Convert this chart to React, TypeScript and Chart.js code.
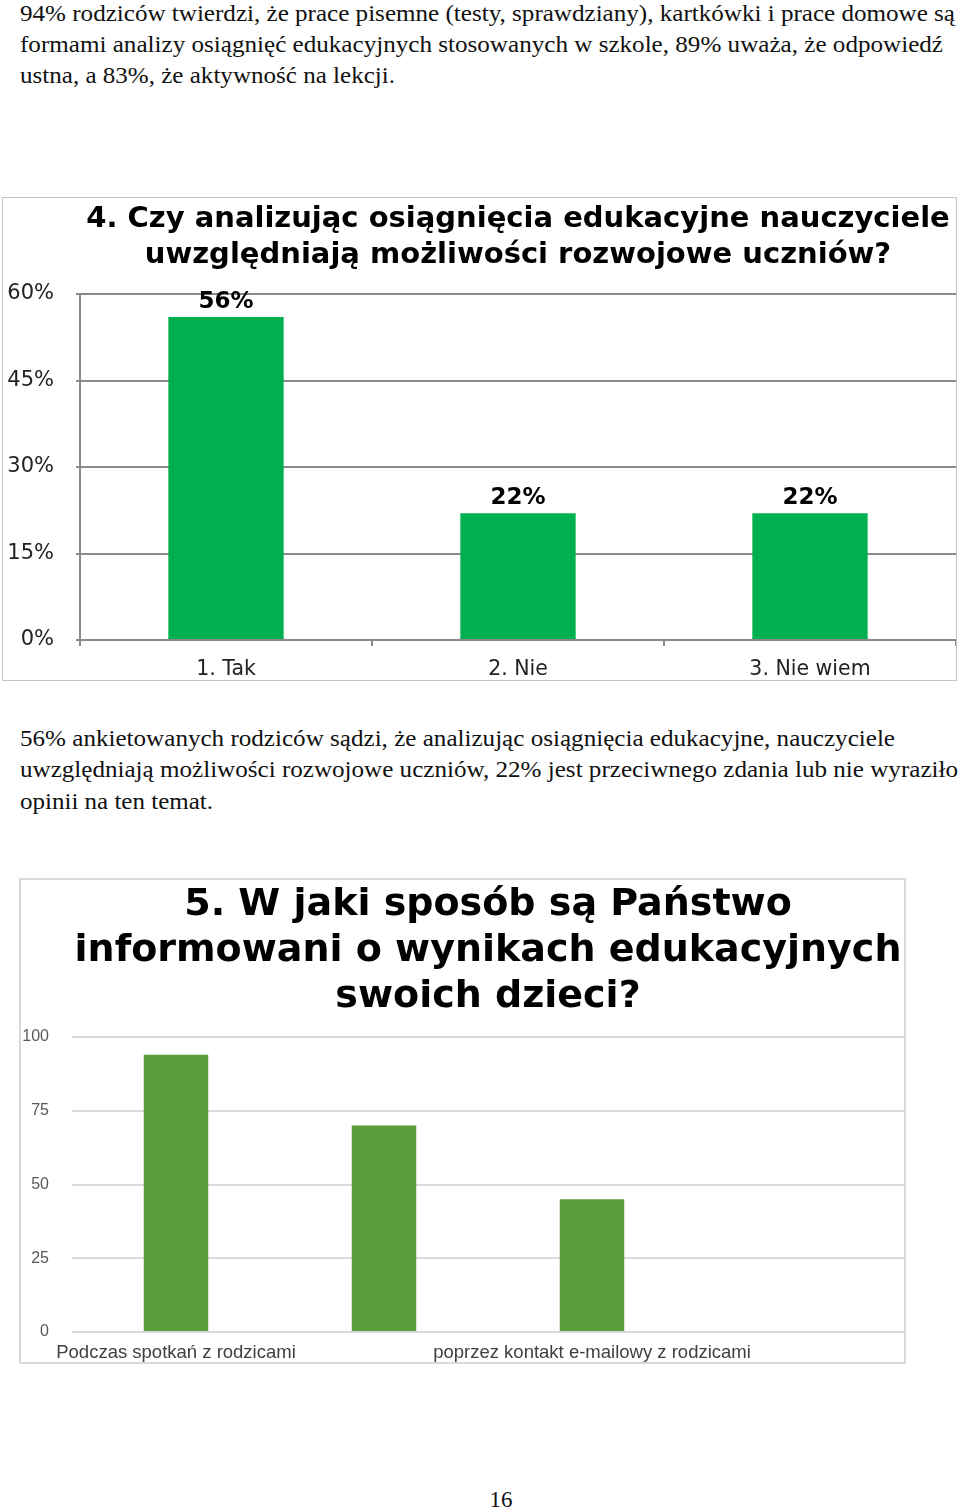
import React, { useEffect, useLayoutEffect, useRef } from 'react';
import { Chart, registerables } from 'chart.js';

Chart.register(...registerables);

// ---------- Data ----------
const paragraph1Lines = [
  '94% rodziców twierdzi, że prace pisemne (testy, sprawdziany), kartkówki i prace domowe są',
  'formami analizy osiągnięć edukacyjnych stosowanych w szkole, 89% uważa, że odpowiedź',
  'ustna, a 83%, że aktywność na lekcji.',
];
const paragraph2Lines = [
  '56% ankietowanych rodziców sądzi, że analizując osiągnięcia edukacyjne, nauczyciele',
  'uwzględniają możliwości rozwojowe uczniów, 22% jest przeciwnego zdania lub nie wyraziło',
  'opinii na ten temat.',
];
const pageNumber = '16';

const q4Title = [
  '4. Czy analizując osiągnięcia edukacyjne nauczyciele',
  'uwzględniają możliwości rozwojowe uczniów?',
];
const q4Categories = ['1. Tak', '2. Nie', '3. Nie wiem'];
const q4Values = [56, 22, 22];
const q4AxisMax = 60;
const q4AxisStep = 15;

const q5Title = [
  '5. W jaki sposób są Państwo',
  'informowani o wynikach edukacyjnych',
  'swoich dzieci?',
];
const q5Categories = [
  'Podczas spotkań z rodzicami',
  'podczas indywidualnych rozmów z nauczycielami',
  'poprzez kontakt e-mailowy z rodzicami',
  'inne',
];
const q5Values = [94, 70, 45, 0];
const q5AxisMax = 100;
const q5AxisStep = 25;

// ---------- Helpers ----------
function makeTitlePlugin(lines: string[], font: string, top: number, lineHeight: number) {
  return {
    id: 'centeredTitle',
    afterDraw(chart: any) {
      const { ctx, chartArea } = chart;
      ctx.save();
      ctx.font = font;
      ctx.fillStyle = '#000';
      ctx.textAlign = 'center';
      ctx.textBaseline = 'middle';
      const cx = (chartArea.left + chartArea.right) / 2;
      lines.forEach((l, i) => ctx.fillText(l, cx, top + i * lineHeight));
      ctx.restore();
    },
  };
}

function makeValueLabelPlugin(values: number[]) {
  return {
    id: 'valueLabels',
    afterDatasetsDraw(chart: any) {
      const { ctx } = chart;
      const meta = chart.getDatasetMeta(0);
      ctx.save();
      ctx.font = 'bold 23px "DejaVu Sans"';
      ctx.fillStyle = '#000';
      ctx.textAlign = 'center';
      ctx.textBaseline = 'middle';
      meta.data.forEach((bar: any, i: number) => {
        ctx.fillText(values[i] + '%', bar.x, bar.y - 15);
      });
      ctx.restore();
    },
  };
}

function FitLine({ text, left, top, width, size }: { text: string; left: number; top: number; width: number; size: number }) {
  const ref = useRef<HTMLSpanElement>(null);
  useLayoutEffect(() => {
    const el = ref.current;
    if (!el) return;
    el.style.transform = 'none';
    const w = el.getBoundingClientRect().width;
    if (w > 0) el.style.transform = `scaleX(${width / w})`;
  }, [text, width]);
  return (
    <span
      ref={ref}
      style={{
        position: 'absolute',
        left,
        top,
        whiteSpace: 'nowrap',
        fontFamily: '"Liberation Serif", "Times New Roman", serif',
        fontSize: size,
        lineHeight: `${size}px`,
        transformOrigin: '0 0',
        color: '#111',
      }}
    >
      {text}
    </span>
  );
}

function Q4Chart() {
  const ref = useRef<HTMLCanvasElement>(null);
  useEffect(() => {
    if (!ref.current) return;
    const gray = '#8a8a8a';
    const chart = new Chart(ref.current, {
      type: 'bar',
      data: {
        labels: q4Categories,
        datasets: [
          {
            data: q4Values,
            backgroundColor: '#00B050',
            borderWidth: 0,
            barPercentage: 0.395,
            categoryPercentage: 1,
          },
        ],
      },
      options: {
        animation: false,
        responsive: false,
        layout: { padding: { top: 96, left: 0, right: 0, bottom: 0 } },
        plugins: { legend: { display: false }, tooltip: { enabled: false }, title: { display: false } },
        scales: {
          x: {
            grid: { display: true, drawOnChartArea: false, drawTicks: true, tickLength: 6, offset: true, color: gray, lineWidth: 2 },
            border: { display: true, color: gray, width: 2 },
            ticks: { font: { family: '"DejaVu Sans"', size: 20.5 }, color: '#222', padding: 11, maxRotation: 0, autoSkip: false },
            afterFit: (s: any) => {
              s.height = 40;
            },
          },
          y: {
            min: 0,
            max: q4AxisMax,
            ticks: {
              stepSize: q4AxisStep,
              callback: (v: any) => v + '%',
              padding: 22,
              font: { family: '"DejaVu Sans"', size: 21 },
              color: '#222',
            },
            grid: { color: gray, lineWidth: 2, tickLength: 4, drawTicks: true },
            border: { display: true, color: gray, width: 2 },
            afterFit: (s: any) => {
              s.width = 77;
              s.paddingTop = 0;
              s.paddingBottom = 0;
            },
          },
        },
      },
      plugins: [
        makeTitlePlugin(q4Title, 'bold 29px "DejaVu Sans"', 21, 36),
        makeValueLabelPlugin(q4Values),
      ],
    } as any);
    return () => chart.destroy();
  }, []);
  return <canvas ref={ref} width={953} height={482} style={{ display: 'block' }} />;
}

function Q5Chart() {
  const ref = useRef<HTMLCanvasElement>(null);
  useEffect(() => {
    if (!ref.current) return;
    const chart = new Chart(ref.current, {
      type: 'bar',
      data: {
        labels: q5Categories,
        datasets: [
          {
            data: q5Values,
            backgroundColor: '#589D3A',
            borderWidth: 0,
            barPercentage: 0.31,
            categoryPercentage: 1,
          },
        ],
      },
      options: {
        animation: false,
        responsive: false,
        layout: { padding: { top: 157, left: 0, right: 0, bottom: 0 } },
        plugins: { legend: { display: false }, tooltip: { enabled: false }, title: { display: false } },
        scales: {
          x: {
            grid: { display: false, drawTicks: false },
            border: { display: false },
            ticks: {
              font: { family: '"Liberation Sans Narrow", "Liberation Sans", Arial, sans-serif', size: 18.5 },
              color: '#404040',
              padding: 10,
              maxRotation: 0,
              autoSkip: false,
              callback: (_v: any, i: number) => (i % 2 === 0 ? q5Categories[i] : ''),
            },
            afterFit: (s: any) => {
              s.height = 30;
            },
          },
          y: {
            min: 0,
            max: q5AxisMax,
            ticks: {
              stepSize: q5AxisStep,
              padding: 23,
              font: { family: '"Liberation Sans Narrow", "Liberation Sans", Arial, sans-serif', size: 16 },
              color: '#595959',
            },
            grid: { color: '#d9d9d9', lineWidth: 2, drawTicks: false },
            border: { display: false },
            afterFit: (s: any) => {
              s.width = 51;
              s.paddingTop = 0;
              s.paddingBottom = 0;
            },
          },
        },
      },
      plugins: [makeTitlePlugin(q5Title, 'bold 38px "DejaVu Sans"', 25, 46)],
    } as any);
    return () => chart.destroy();
  }, []);
  return <canvas ref={ref} width={883} height={482} style={{ display: 'block' }} />;
}

export default function App() {
  const p1Tops = [2, 33, 64];
  const p1Widths = [935, 923, 375];
  const p2Tops = [727, 758, 790];
  const p2Widths = [875, 938, 193];
  return (
    <div style={{ position: 'absolute', left: 0, top: 0, width: 960, height: 1510, background: '#fff', overflow: 'hidden' }}>
      {paragraph1Lines.map((t, i) => (
        <FitLine key={'a' + i} text={t} left={20} top={p1Tops[i]} width={p1Widths[i]} size={23} />
      ))}
      <div
        style={{
          position: 'absolute',
          left: 2,
          top: 197,
          width: 955,
          height: 484,
          border: '1px solid #c4c4c4',
          boxSizing: 'border-box',
        }}
      >
        <Q4Chart />
      </div>
      {paragraph2Lines.map((t, i) => (
        <FitLine key={'b' + i} text={t} left={20} top={p2Tops[i]} width={p2Widths[i]} size={23} />
      ))}
      <div
        style={{
          position: 'absolute',
          left: 19,
          top: 878,
          width: 887,
          height: 486,
          border: '2px solid #d9d9d9',
          boxSizing: 'border-box',
        }}
      >
        <Q5Chart />
      </div>
      <div
        style={{
          position: 'absolute',
          left: 451,
          top: 1488,
          width: 100,
          textAlign: 'center',
          fontFamily: '"Liberation Serif", serif',
          fontSize: 23,
          lineHeight: '23px',
          color: '#111',
        }}
      >
        {pageNumber}
      </div>
    </div>
  );
}
